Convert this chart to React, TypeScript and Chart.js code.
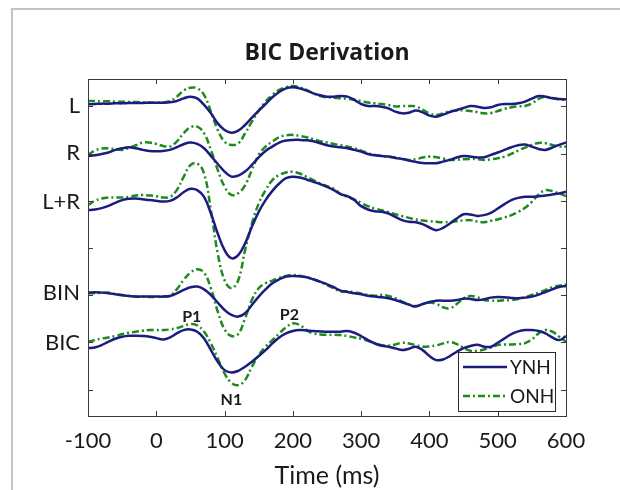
import React, { useEffect, useRef } from 'react';
import { Chart, registerables } from 'chart.js';

Chart.register(...registerables);

// ---- data ----
const TIMES = [
  -100, -90, -80, -70, -60, -50, -40, -30, -20, -10,
  0, 10, 20, 30, 40, 50, 60, 70, 80, 90,
  100, 110, 120, 130, 140, 150, 160, 170, 180, 190,
  200, 210, 220, 230, 240, 250, 260,
  270, 280, 290, 300, 310, 320, 330, 340, 350, 360,
  370, 380, 390, 400, 410, 420, 430, 440, 450, 460,
  470, 480, 490, 500, 510, 520, 530, 540, 550, 560,
  570, 580, 590, 600,
];

const TRACE_NAMES = ['L', 'R', 'L+R', 'BIN', 'BIC'];
const TRACE_OFFSETS = [30.5, 25, 19.5, 10.2, 4.5];
const LABEL_LEVELS = [30.1, 25.1, 19.9, 10.2, 4.9];

const YNH_L = [
  -0.28, -0.25, -0.21, -0.21, -0.18, -0.18, -0.14, -0.14, -0.14, -0.11,
  -0.11, -0.11, -0.07, 0.07, 0.35, 0.53, 0.35, -0.35, -1.24, -2.3,
  -3.0, -3.29, -3.07, -2.47, -1.7, -0.95, -0.25, 0.46, 1.02, 1.41,
  1.52, 1.41, 1.17, 0.88, 0.67, 0.53, 0.53,
  0.6, 0.53, 0.18, -0.25, -0.46, -0.46, -0.53, -0.71, -1.06, -1.24,
  -1.17, -0.95, -1.13, -1.48, -1.59, -1.38, -1.1, -0.88, -0.67, -0.46,
  -0.53, -0.67, -0.6, -0.35, -0.25, -0.25, -0.18, 0, 0.32, 0.6,
  0.53, 0.35, 0.28, 0.25,
];
const ONH_L = [
  0.07, 0.07, 0.04, 0.04, 0, 0, -0.04, -0.04, -0.07, -0.1,
  -0.1, -0.07, 0.07, 0.53, 1.17, 1.48, 1.41, 0.71, -1.06, -3.0,
  -4.24, -4.59, -4.42, -3.36, -2.12, -0.95, 0, 0.71, 1.24, 1.52,
  1.66, 1.52, 1.24, 0.88, 0.6, 0.46, 0.42,
  0.35, 0.3, 0.2, 0.07, -0.1, -0.18, -0.25, -0.35, -0.5, -0.46,
  -0.46, -0.5, -0.85, -1.24, -1.41, -1.24, -1.0, -0.95, -0.92, -1.0,
  -1.1, -1.24, -1.2, -1.0, -0.75, -0.6, -0.5, -0.46, -0.2, 0.3,
  0.5, 0.4, 0.25, 0.18,
];
const YNH_R = [
  -0.25, -0.18, -0.04, 0.11, 0.39, 0.57, 0.67, 0.57, 0.39, 0.28,
  0.25, 0.28, 0.39, 0.67, 0.99, 1.17, 1.02, 0.57, -0.25, -1.1,
  -1.91, -2.44, -2.33, -1.91, -1.2, -0.39, 0.28, 0.74, 1.17, 1.38,
  1.45, 1.45, 1.41, 1.31, 1.1, 0.88, 0.74,
  0.67, 0.57, 0.39, 0.21, -0.04, -0.18, -0.25, -0.32, -0.46, -0.57,
  -0.74, -0.88, -0.99, -1.02, -1.02, -0.85, -0.67, -0.42, -0.25, -0.32,
  -0.42, -0.39, -0.14, 0.11, 0.39, 0.67, 0.88, 0.95, 0.74, 0.49,
  0.39, 0.64, 0.92, 1.17,
];
const ONH_R = [
  -0.14, 0.32, 0.53, 0.57, 0.46, 0.39, 0.6, 0.88, 1.17, 1.17,
  1.02, 0.81, 0.74, 1.27, 2.15, 2.79, 2.86, 2.15, 0.39, -1.73,
  -3.5, -4.38, -4.2, -3.36, -1.73, -0.14, 0.74, 1.27, 1.73, 1.94,
  1.98, 1.87, 1.73, 1.52, 1.31, 1.17, 1.02,
  0.88, 0.74, 0.57, 0.32, 0.04, -0.14, -0.25, -0.32, -0.42, -0.57,
  -0.67, -0.6, -0.42, -0.32, -0.39, -0.53, -0.67, -0.67, -0.6, -0.57,
  -0.6, -0.67, -0.6, -0.49, -0.32, -0.04, 0.32, 0.64, 0.92, 1.13,
  1.1, 0.92, 0.74, 0.74,
];
const YNH_LR = [
  -0.49, -0.42, -0.28, -0.04, 0.28, 0.57, 0.71, 0.74, 0.67, 0.57,
  0.49, 0.42, 0.49, 0.85, 1.41, 1.77, 1.63, 0.92, -0.85, -2.97,
  -4.73, -5.58, -5.26, -4.03, -2.26, -0.67, 0.57, 1.55, 2.33, 2.9,
  3.04, 2.97, 2.76, 2.51, 2.26, 1.98, 1.63,
  1.2, 0.99, 0.57, -0.07, -0.42, -0.6, -0.67, -0.85, -1.2, -1.55,
  -1.73, -1.77, -1.98, -2.33, -2.61, -2.37, -1.91, -1.38, -0.92, -0.95,
  -1.1, -1.02, -0.78, -0.32, 0.14, 0.57, 0.81, 0.92, 0.92, 0.99,
  1.06, 1.17, 1.27, 1.45,
];
const ONH_LR = [
  0.04, 0.49, 0.74, 0.85, 0.85, 0.85, 0.92, 1.06, 1.1, 1.06,
  0.99, 0.85, 0.92, 1.63, 3.04, 4.28, 4.45, 3.39, -0.49, -5.09,
  -7.92, -8.76, -7.92, -4.73, -1.91, 0.21, 1.63, 2.69, 3.22, 3.5,
  3.57, 3.39, 3.04, 2.69, 2.33, 2.05, 1.77,
  1.2, 0.92, 0.64, 0.28, -0.07, -0.32, -0.49, -0.71, -0.92, -1.13,
  -1.31, -1.48, -1.59, -1.66, -1.73, -1.77, -1.73, -1.66, -1.59, -1.55,
  -1.7, -1.77, -1.63, -1.48, -1.27, -1.02, -0.67, -0.25, 0.39, 1.17,
  1.63, 1.52, 1.27, 0.99,
];
const YNH_BIN = [
  0.07, 0.11, 0.07, 0, -0.11, -0.21, -0.28, -0.35, -0.35, -0.35,
  -0.35, -0.35, -0.28, 0, 0.35, 0.64, 0.71, 0.42, -0.18, -0.99,
  -1.77, -2.3, -2.47, -2.12, -1.24, -0.35, 0.42, 1.06, 1.48, 1.77,
  1.84, 1.8, 1.7, 1.48, 1.24, 0.95, 0.64,
  0.28, 0.14, 0, -0.11, -0.25, -0.35, -0.42, -0.53, -0.71, -0.95,
  -1.2, -1.41, -1.13, -0.92, -0.78, -0.78, -0.78, -0.71, -0.57, -0.6,
  -0.71, -0.64, -0.46, -0.39, -0.42, -0.49, -0.53, -0.46, -0.35, -0.14,
  0.14, 0.42, 0.67, 0.78,
];
const ONH_BIN = [
  0, 0, 0.04, 0.07, -0.07, -0.18, -0.28, -0.35, -0.35, -0.39,
  -0.39, -0.35, -0.25, 0.42, 1.41, 2.19, 2.54, 2.19, 0.53, -1.94,
  -3.82, -4.52, -4.31, -2.65, -0.71, 0.53, 1.06, 1.34, 1.63, 1.84,
  1.94, 1.87, 1.7, 1.48, 1.2, 0.88, 0.53,
  0.18, 0.21, 0.11, -0.04, -0.18, -0.25, -0.18, -0.28, -0.53, -0.88,
  -1.17, -1.34, -1.17, -0.99, -1.13, -1.48, -1.59, -1.13, -0.53, -0.28,
  -0.42, -0.71, -0.78, -0.78, -0.74, -0.71, -0.6, -0.42, -0.18, 0.07,
  0.35, 0.64, 0.81, 0.92,
];
const YNH_BIC = [
  -0.11, -0.04, 0.21, 0.57, 0.88, 1.1, 1.2, 1.2, 1.17, 1.1,
  0.95, 0.81, 1.02, 1.45, 1.8, 1.87, 1.63, 0.92, -0.32, -1.55,
  -2.44, -2.69, -2.51, -2.08, -1.55, -0.95, -0.32, 0.39, 1.02, 1.45,
  1.7, 1.8, 1.77, 1.7, 1.66, 1.63, 1.63,
  1.63, 1.7, 1.52, 1.17, 0.74, 0.39, 0.14, 0.04, -0.14, -0.32,
  -0.18, 0.04, -0.32, -0.95, -1.38, -1.31, -0.95, -0.49, -0.11, 0.11,
  0.25, 0.04, 0.04, 0.46, 0.92, 1.38, 1.66, 1.8, 1.8, 1.7,
  1.45, 1.02, 0.74, 1.17,
];
const ONH_BIC = [
  0.57, 0.74, 0.92, 1.02, 1.17, 1.38, 1.52, 1.63, 1.73, 1.8,
  1.8, 1.8, 1.87, 2.01, 2.23, 2.44, 2.3, 1.63, 0.39, -1.2,
  -2.79, -3.78, -4.03, -3.5, -2.08, -0.85, 0.04, 0.74, 1.45, 2.08,
  2.51, 2.33, 1.8, 1.45, 1.34, 1.31, 1.31,
  1.27, 1.17, 1.02, 0.88, 0.67, 0.39, 0.21, 0.14, 0.28, 0.46,
  0.39, 0.21, 0.04, 0.07, 0.18, 0.39, 0.53, 0.32, -0.07, -0.39,
  -0.39, -0.25, -0.04, 0.21, 0.28, 0.28, 0.32, 0.42, 0.81, 1.45,
  1.8, 1.63, 1.1, 0.57,
];

const YNH_TRACES = [YNH_L, YNH_R, YNH_LR, YNH_BIN, YNH_BIC];
const ONH_TRACES = [ONH_L, ONH_R, ONH_LR, ONH_BIN, ONH_BIC];

const X_TICKS = [-100, 0, 100, 200, 300, 400, 500, 600];
const Y_TICK_MARKS = [0, 5, 10, 15, 20, 25, 30];

const PEAK_NAMES = ['P1', 'P2', 'N1'];
const PEAK_TIMES = [52, 195, 110];
const PEAK_LEVELS = [7.7, 7.9, -1.1];

const GROUPS = ['YNH', 'ONH'];
const BLUE = '#1c1c80';
const GREEN = '#1e8a1e';
const DASH_DOT = [7, 3, 2, 3];
const TEXT = '#1a1a1a';
const FONT = 'Lato, "Open Sans", sans-serif';
const TITLE_FONT = '"Open Sans", Lato, sans-serif';

const framePlugin = {
  id: 'frame',
  beforeDraw(chart: any) {
    const { ctx, width, height } = chart;
    ctx.save();
    ctx.fillStyle = '#ffffff';
    ctx.fillRect(0, 0, width, height);
    ctx.strokeStyle = '#c4c4c4';
    ctx.lineWidth = 2;
    ctx.beginPath();
    ctx.moveTo(12, height);
    ctx.lineTo(12, 9);
    ctx.lineTo(width, 9);
    ctx.stroke();
    ctx.restore();
  },
};

const boxPlugin = {
  id: 'boxTicks',
  afterDatasetsDraw(chart: any) {
    const { ctx, chartArea: a, scales } = chart;
    ctx.save();
    ctx.strokeStyle = '#3a3a3a';
    ctx.lineWidth = 1;
    ctx.strokeRect(a.left + 0.5, a.top + 0.5, a.right - a.left, a.bottom - a.top);
    ctx.beginPath();
    const tl = 5;
    X_TICKS.forEach((v) => {
      const x = Math.round(scales.x.getPixelForValue(v)) + 0.5;
      ctx.moveTo(x, a.bottom);
      ctx.lineTo(x, a.bottom - tl);
      ctx.moveTo(x, a.top);
      ctx.lineTo(x, a.top + tl);
    });
    Y_TICK_MARKS.forEach((v) => {
      const y = Math.round(scales.y.getPixelForValue(v)) + 0.5;
      ctx.moveTo(a.left, y);
      ctx.lineTo(a.left + tl, y);
      ctx.moveTo(a.right, y);
      ctx.lineTo(a.right - tl, y);
    });
    ctx.stroke();

    // peak annotations
    ctx.fillStyle = TEXT;
    ctx.font = `bold 16px ${FONT}`;
    ctx.textAlign = 'center';
    ctx.textBaseline = 'middle';
    PEAK_NAMES.forEach((n, i) => {
      ctx.fillText(n, scales.x.getPixelForValue(PEAK_TIMES[i]), scales.y.getPixelForValue(PEAK_LEVELS[i]));
    });
    ctx.restore();
  },
};

const legendPlugin = {
  id: 'boxLegend',
  afterDraw(chart: any) {
    const { ctx, chartArea: a } = chart;
    const w = 97;
    const h = 59;
    const left = a.right - 11 - w;
    const top = a.bottom - 5 - h;
    ctx.save();
    ctx.fillStyle = '#ffffff';
    ctx.fillRect(left, top, w, h);
    ctx.strokeStyle = '#2a2a2a';
    ctx.lineWidth = 1;
    ctx.strokeRect(left + 0.5, top + 0.5, w, h);
    GROUPS.forEach((g, i) => {
      const ds = chart.data.datasets.find((d: any) => d.label === g);
      const y = top + 15 + i * 29;
      ctx.strokeStyle = ds.borderColor;
      ctx.lineWidth = ds.borderWidth;
      ctx.setLineDash(ds.borderDash || []);
      ctx.beginPath();
      ctx.moveTo(left + 5, y);
      ctx.lineTo(left + 49, y);
      ctx.stroke();
      ctx.setLineDash([]);
      ctx.fillStyle = TEXT;
      ctx.font = `19px ${FONT}`;
      ctx.textAlign = 'left';
      ctx.textBaseline = 'middle';
      ctx.fillText(g, left + 52, y + 1);
    });
    ctx.restore();
  },
};

export default function App() {
  const ref = useRef<HTMLCanvasElement | null>(null);

  useEffect(() => {
    if (!ref.current) return;
    const datasets: any[] = [];
    YNH_TRACES.forEach((vals, i) => {
      datasets.push({
        label: 'YNH',
        data: TIMES.map((t, j) => ({ x: t, y: TRACE_OFFSETS[i] + vals[j] })),
        borderColor: BLUE,
        borderWidth: 2.5,
        pointRadius: 0,
        tension: 0.4,
        fill: false,
      });
    });
    ONH_TRACES.forEach((vals, i) => {
      datasets.push({
        label: 'ONH',
        data: TIMES.map((t, j) => ({ x: t, y: TRACE_OFFSETS[i] + vals[j] })),
        borderColor: GREEN,
        borderWidth: 2.5,
        borderDash: DASH_DOT,
        pointRadius: 0,
        tension: 0.4,
        fill: false,
      });
    });

    const chart = new Chart(ref.current, {
      type: 'line',
      data: { datasets },
      options: {
        animation: false,
        responsive: false,
        devicePixelRatio: 1,
        layout: { padding: { left: 0, right: 54, top: 0, bottom: 0 } },
        plugins: {
          legend: { display: false },
          tooltip: { enabled: false },
          title: {
            display: true,
            text: 'BIC Derivation',
            fullSize: false,
            color: TEXT,
            font: { family: TITLE_FONT, size: 23, weight: 'bold' },
            padding: { top: 40, bottom: 11.4 },
          },
        },
        scales: {
          x: {
            type: 'linear',
            min: -100,
            max: 600,
            grid: { display: false, drawTicks: false },
            border: { display: false },
            ticks: {
              stepSize: 100,
              color: TEXT,
              font: { family: FONT, size: 22 },
              padding: 12,
              maxRotation: 0,
            },
            title: {
              display: true,
              text: 'Time (ms)',
              color: TEXT,
              font: { family: FONT, size: 25 },
              padding: { top: 0, bottom: -1 },
            },
            afterFit: (s: any) => {
              s.height = 74;
            },
          },
          y: {
            type: 'linear',
            min: -2.8,
            max: 32.9,
            grid: { display: false, drawTicks: false },
            border: { display: false },
            afterBuildTicks: (s: any) => {
              s.ticks = LABEL_LEVELS.map((v) => ({ value: v }));
            },
            ticks: {
              color: TEXT,
              font: { family: FONT, size: 22 },
              padding: 8,
              callback: (_v: any, i: number) => TRACE_NAMES[i],
            },
            afterFit: (s: any) => {
              s.width = 88;
            },
          },
        },
      },
      plugins: [framePlugin, boxPlugin, legendPlugin],
    });
    return () => chart.destroy();
  }, []);

  return (
    <div style={{ position: 'absolute', left: 0, top: 0, width: 620, height: 490 }}>
      <canvas ref={ref} width={620} height={490} />
    </div>
  );
}
